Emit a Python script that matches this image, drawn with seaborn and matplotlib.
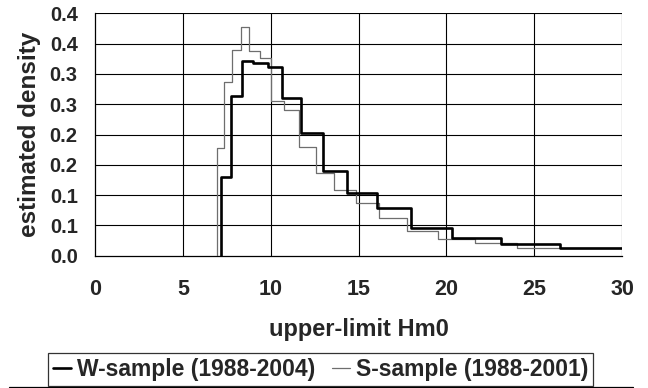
import numpy as np
import pandas as pd
import seaborn as sns
import matplotlib.pyplot as plt
from matplotlib.lines import Line2D

# bin edges (upper-limit Hm0) and estimated densities
w_edges = [7.20, 7.73, 8.35, 9.01, 9.82, 10.65, 11.70, 12.98, 14.37, 16.05, 18.00, 20.34, 23.10, 26.45, 31.0]
w_density = [0.130, 0.263, 0.322, 0.318, 0.312, 0.261, 0.203, 0.139, 0.104, 0.078, 0.045, 0.0295, 0.019, 0.0122]

s_edges = [6.96, 7.34, 7.78, 8.29, 8.79, 9.39, 10.01, 10.78, 11.63, 12.57, 13.62, 14.83, 16.19, 17.78, 19.54,
           21.63, 24.00, 26.35, 31.0]
s_density = [0.177, 0.287, 0.339, 0.377, 0.338, 0.326, 0.256, 0.240, 0.180, 0.137, 0.108, 0.0875, 0.062, 0.041,
             0.028, 0.0205, 0.0135, 0.012]

w_name = "W-sample (1988-2004)"
s_name = "S-sample (1988-2001)"

x_ticks = [0, 5, 10, 15, 20, 25, 30]
y_ticks = [0.0, 0.05, 0.10, 0.15, 0.20, 0.25, 0.30, 0.35, 0.40]
y_ticklabels = ["0.0", "0.1", "0.1", "0.2", "0.2", "0.3", "0.3", "0.4", "0.4"]


def step_frame(edges, dens, name):
    x = [edges[0]] + list(edges)
    y = [0.0] + list(dens) + [dens[-1]]
    return pd.DataFrame({"Hm0": x, "density": y, "sample": name})


sns.set_style("white")
plt.rcParams['font.family'] = ['Liberation Sans', 'DejaVu Sans']
plt.rcParams['font.weight'] = 'bold'

fig = plt.figure(figsize=(6.48, 3.88), dpi=100)
ax = fig.add_axes([95 / 648, 1 - 255.7 / 388, (622 - 95) / 648, (255.7 - 13.3) / 388])

ax.set_yticks(y_ticks)
ax.set_xticks(x_ticks)
for yv in y_ticks[1:]:
    ax.axhline(yv, color="black", lw=0.8, zorder=1)
for xv in x_ticks[1:]:
    ax.axvline(xv, color="black", lw=0.8, zorder=1)

sns.lineplot(data=step_frame(s_edges, s_density, s_name), x="Hm0", y="density", estimator=None, sort=False,
             drawstyle="steps-post", color="#6e6e6e", lw=0.9, ax=ax, zorder=3)
sns.lineplot(data=step_frame(w_edges, w_density, w_name), x="Hm0", y="density", estimator=None, sort=False,
             drawstyle="steps-post", color="black", lw=1.9, ax=ax, zorder=4)

ax.set_xlim(0, 30)
ax.set_ylim(0, 0.4)
ax.set_yticklabels(y_ticklabels)
ax.tick_params(axis="both", direction="out", length=5.5, width=0.8, color="black", labelsize=14.5, pad=7)
ax.tick_params(axis="x", labelsize=15.5, pad=11)
for t in ax.get_xticklabels() + ax.get_yticklabels():
    t.set_fontweight("bold")

for side in ["top", "right"]:
    ax.spines[side].set_visible(False)
for side in ["left", "bottom"]:
    ax.spines[side].set_color("black")
    ax.spines[side].set_linewidth(0.9)

ax.set_xlabel("upper-limit Hm0", fontsize=17, fontweight="bold", labelpad=13)
ax.set_ylabel("estimated density", fontsize=17.5, fontweight="bold", labelpad=6)

handles = [Line2D([0], [0], color="black", lw=1.9), Line2D([0], [0], color="#6e6e6e", lw=0.9)]
leg = fig.legend(handles, [w_name, s_name], ncol=2, loc="center", bbox_to_anchor=(320.5 / 648, 1 - 369.5 / 388),
                 prop={"size": 16.5, "weight": "bold"}, frameon=True, fancybox=False, edgecolor="black",
                 handlelength=0.8, handletextpad=0.25, columnspacing=0.75, borderpad=0.2, borderaxespad=0)
leg.get_frame().set_linewidth(0.9)

fig.add_artist(Line2D([9 / 648, 633 / 648], [1 - 386.7 / 388] * 2, color="black", lw=0.9))

plt.savefig("out.png", dpi=100)
